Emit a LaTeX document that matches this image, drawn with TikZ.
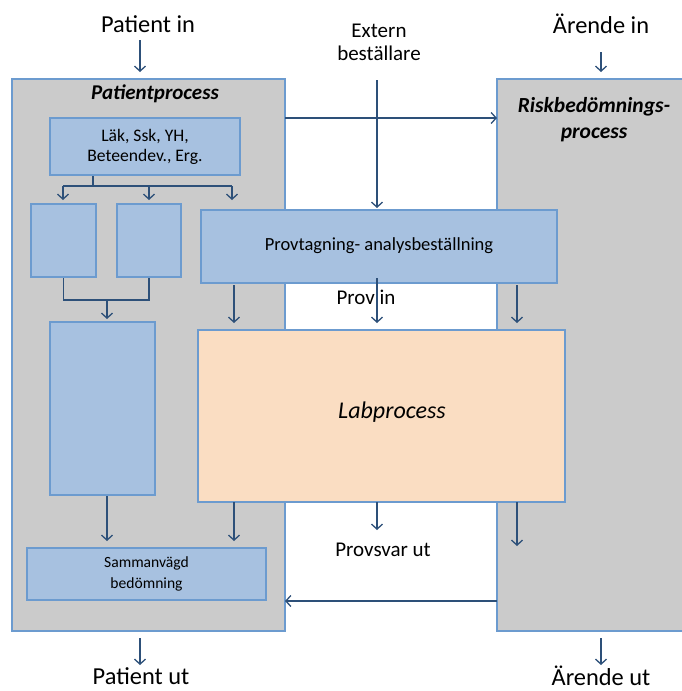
\documentclass[tikz,border=0pt]{standalone}
\usepackage{fontspec}
\setmainfont{Carlito}
\usetikzlibrary{arrows.meta}
\definecolor{grayfill}{HTML}{CBCBCB}
\definecolor{edgeblue}{HTML}{6C9BCF}
\definecolor{boxblue}{HTML}{A7C1E0}
\definecolor{arrowblue}{HTML}{2D5079}
\definecolor{peach}{HTML}{FADDC2}
\tikzset{
  proc/.style={draw=edgeblue, fill=grayfill, line width=2pt},
  bbox/.style={draw=edgeblue, fill=boxblue, line width=2pt, align=center, inner sep=0pt},
  arr/.style={draw=arrowblue, line width=1.3pt, -{Straight Barb[length=5pt,width=11pt,line width=1.3pt]}},
  ln/.style={draw=arrowblue, line width=1.3pt},
  lbl/.style={font=\fontsize{24.4}{28}\selectfont, text=black, inner sep=0pt},
}
\begin{document}
\begin{tikzpicture}[x=1pt,y=-1pt]
\useasboundingbox (0,0) rectangle (681,691);
% big process areas
\draw[proc] (12,79) rectangle (285,631);
\draw[proc] (497,79) rectangle (690,631);
\node[font=\fontsize{21}{24}\selectfont\bfseries\itshape, inner sep=0pt] (ptitle) at (155,94) {Patientprocess};
\node[font=\fontsize{21.5}{26}\selectfont\bfseries\itshape, align=center, inner sep=0pt] (rtitle) at (594,120) {Riskbedömnings-\\process};
% coordinates
\coordinate (pa) at (285,118);
\coordinate (ra) at (497,118);
\coordinate (pb) at (285,601);
\coordinate (rb) at (497,601);
% inner boxes
\node[bbox, minimum width=190pt, minimum height=57pt, font=\fontsize{17.6}{20}\selectfont] (lak) at (145,146.5) {Läk, Ssk, YH,\\Beteendev., Erg.};
\node[bbox, minimum width=65pt, minimum height=73pt] (s1) at (63.5,240.5) {};
\node[bbox, minimum width=64pt, minimum height=73pt] (s2) at (149,240.5) {};
\node[bbox, minimum width=105pt, minimum height=173pt] (tall) at (102.5,408.5) {};
\node[bbox, minimum width=239pt, minimum height=52pt, font=\fontsize{15.6}{21}\selectfont] (samm) at (146.5,574) {Sammanvägd\\bedömning};
\node[bbox, minimum width=356pt, minimum height=73pt, font=\fontsize{18.5}{20}\selectfont] (prov) at (379,246) {Provtagning- analysbeställning};
\node[draw=edgeblue, fill=peach, line width=2pt, minimum width=367pt, minimum height=172pt, inner sep=0pt] (lab) at (381.5,416) {};
\node[font=\fontsize{24}{28}\selectfont\itshape, inner sep=0pt] (labt) at (392,412) {Labprocess};
% texts
\node[lbl] (pin) at (148,24) {Patient in};
\node[lbl] (ain) at (601,24) {Ärende in};
\node[lbl] (put) at (141,676) {Patient ut};
\node[lbl] (aut) at (601,676) {Ärende ut};
\node[font=\fontsize{21}{23}\selectfont, align=center, inner sep=0pt] (ext) at (379,42) {Extern\\beställare};
\node[font=\fontsize{21}{24}\selectfont, inner sep=0pt] (provin) at (366,297) {Prov in};
\node[font=\fontsize{21}{24}\selectfont, inner sep=0pt] (provut) at (383,550) {Provsvar ut};
% connectors
\draw[arr] (140,40) -- (140,72);
\draw[arr] (601,52) -- (601,72);
\draw[arr] (140,638) -- (140,665);
\draw[arr] (601,638) -- (601,665);
\draw[arr] (pa) -- (ra);
\draw[arr] (rb) -- (pb);
\draw[arr] (377,80) -- (377,208);
% branch from lak
\draw[ln] (lak.south -| 93,0) -- (93,186);
\draw[ln] (63,186) -- (232,186);
\draw[arr] (63,186) -- (63,200);
\draw[arr] (149,186) -- (149,200);
\draw[arr] (232,186) -- (232,200);
% merge
\draw[ln] (s1.south) -- (63.5,300) -- (149,300) -- (s2.south);
\draw[arr] (107,300) -- (107,319);
\draw[arr] (tall.south -| 107,0) -- (107,541);
% provtagning to lab
\draw[arr] (234,285) -- (234,323);
\draw[arr] (377,278) -- (377,323);
\draw[arr] (517,285) -- (517,323);
% lab outputs
\draw[arr] (234,502) -- (234,541);
\draw[arr] (377,502) -- (377,530);
\draw[arr] (517,502) -- (517,546);
\end{tikzpicture}
\end{document}
